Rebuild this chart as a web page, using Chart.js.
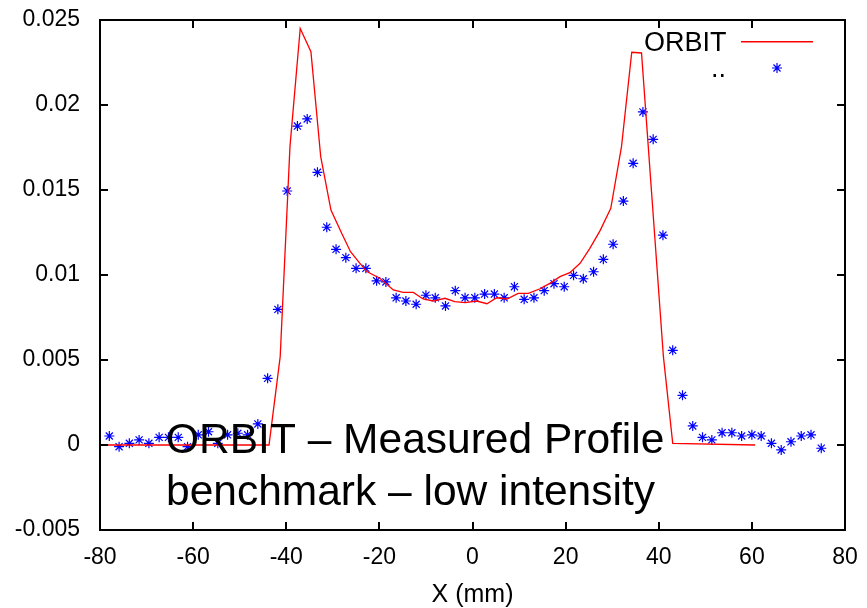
<!DOCTYPE html>
<html>
<head>
<meta charset="utf-8">
<script src="https://cdn.jsdelivr.net/npm/chart.js@4/dist/chart.umd.min.js"></script>
<style>
  body { margin: 0; background: #fff; }
  #wrap { width: 867px; height: 608px; }
</style>
</head>
<body>
<div id="wrap"><canvas id="profileChart" width="867" height="608"></canvas></div>
<script>
// ORBIT simulation (red line)
const orbitX = [-80, -43.7, -41.3, -39.2, -37.0, -34.7, -32.6, -30.4, -28.1, -26.2, -24.4, -22.7,
  -19.9, -17.0, -14.9, -12.7, -10.6, -8.4, -5.9, -3.8, -1.6, 0.9, 3.1, 5.2, 7.4, 9.8, 12.0,
  14.5, 16.6, 18.8, 20.9, 23.1, 25.2, 27.4, 29.7, 32.0, 34.2, 36.3, 38.5, 41.0, 43.0, 60.7];
const orbitY = [0, 0, 0.0052, 0.01755, 0.0245, 0.02314, 0.01696, 0.01382, 0.01245, 0.01137, 0.01076, 0.0102,
  0.00981, 0.00912, 0.00898, 0.00898, 0.00859, 0.00847, 0.00863, 0.00843, 0.00837, 0.00847, 0.00831, 0.00866, 0.00859, 0.00892, 0.00892,
  0.00919, 0.00951, 0.0099, 0.01014, 0.01069, 0.01157, 0.01261, 0.01392, 0.01755, 0.0231, 0.02306, 0.0147, 0.0052, 0.0001, 0];

// measured profile (blue stars)
const measX = [-78.0, -75.9, -73.7, -71.6, -69.5, -67.3, -65.3, -63.2, -61.2, -58.9, -56.7, -54.7,
  -52.6, -50.4, -48.3, -46.1, -44.0, -41.8, -39.8, -37.6, -35.5, -33.3, -31.3, -29.3,
  -27.2, -25.0, -22.9, -20.6, -18.6, -16.4, -14.3, -12.1, -10.0, -8.0, -5.8, -3.7,
  -1.6, 0.5, 2.6, 4.7, 6.8, 9.0, 11.1, 13.2, 15.4, 17.5, 19.7, 21.7,
  23.8, 26.0, 28.1, 30.2, 32.4, 34.5, 36.6, 38.8, 40.9, 43.0, 45.1, 47.3,
  49.4, 51.4, 53.6, 55.7, 57.8, 60.0, 62.0, 64.2, 66.3, 68.4, 70.6, 72.7, 74.9];
const measY = [0.00053, -0.0001, 0.0001, 0.0003, 0.0001, 0.00045, 0.00045, 0.00045, -0.0001, 0.0006, 0.00078, 0.0001,
  0.0006, 0.00069, 0.0006, 0.00124, 0.00392, 0.00798, 0.01494, 0.01876, 0.01918, 0.01604, 0.01281, 0.01151,
  0.01102, 0.01039, 0.01039, 0.00966, 0.00959, 0.00866, 0.00847, 0.00828, 0.00881, 0.00866, 0.00818, 0.00908,
  0.00866, 0.00866, 0.00888, 0.00888, 0.00866, 0.00931, 0.00857, 0.00866, 0.00908, 0.00949, 0.00931, 0.00998,
  0.00978, 0.01019, 0.01092, 0.01181, 0.01435, 0.01657, 0.01959, 0.01798, 0.01234, 0.00557, 0.00292, 0.00112,
  0.00045, 0.0003, 0.00072, 0.00072, 0.00053, 0.0006, 0.00053, 0.0001, -0.00029, 0.00019, 0.00053, 0.0006, -0.00019];

const xTicks = [-80, -60, -40, -20, 0, 20, 40, 60, 80];
const yTicks = [-0.005, 0, 0.005, 0.01, 0.015, 0.02, 0.025];
const yTickLabels = ['-0.005', '0', '0.005', '0.01', '0.015', '0.02', '0.025'];
const noteLines = ['ORBIT \u2013 Measured Profile', 'benchmark \u2013 low intensity'];

const FONT = "'Liberation Sans', Arial, Helvetica, sans-serif";
const frameBorder = { display: true, color: '#000', width: 2 };

// inward ticks on all four sides, key and note text
const framePlugin = {
    id: 'frame',
    afterDraw(chart) {
        const ctx = chart.ctx;
        const a = chart.chartArea;
        const xs = chart.scales.x, ys = chart.scales.y;
        const ds = chart.data.datasets;
        const tl = 8;
        ctx.save();
        ctx.fillStyle = '#000';
        xTicks.slice(1, -1).forEach(function(v) {
            const px = Math.round(xs.getPixelForValue(v));
            ctx.fillRect(px - 1, a.bottom - tl, 2, tl);
            ctx.fillRect(px - 1, a.top, 2, tl);
        });
        yTicks.slice(1, -1).forEach(function(v) {
            const py = Math.round(ys.getPixelForValue(v));
            ctx.fillRect(a.left, py - 1, tl, 2);
            ctx.fillRect(a.right - tl, py - 1, tl, 2);
        });

        // key, top right
        ctx.textAlign = 'left';
        ctx.textBaseline = 'alphabetic';
        ctx.font = '27px ' + FONT;
        ctx.fillText(ds[0].label, 644, 51);
        ctx.fillText(ds[1].label, 711, 77);
        ctx.fillStyle = '#ff0000';
        ctx.fillRect(741, 41, 72, 1.5);
        ctx.strokeStyle = '#0000ff';
        ctx.lineWidth = 1.2;
        Chart.helpers.drawPoint(ctx, { pointStyle: 'star', radius: 5, rotation: 0, borderWidth: 1.2 }, 777, 68);

        // note text over the plot
        ctx.fillStyle = '#000';
        ctx.font = '42.5px ' + FONT;
        ctx.fillText(noteLines[0], 166, 453);
        ctx.fillText(noteLines[1], 166, 505);
        ctx.restore();
    }
};

new Chart(document.getElementById('profileChart').getContext('2d'), {
    data: {
        datasets: [{
            type: 'line',
            label: 'ORBIT',
            xAxisID: 'x',
            yAxisID: 'y',
            data: orbitX.map(function(x, i) { return { x: x, y: orbitY[i] }; }),
            borderColor: '#ff0000',
            borderWidth: 1.3,
            pointRadius: 0
        }, {
            type: 'scatter',
            label: '..',
            xAxisID: 'x',
            yAxisID: 'y',
            data: measX.map(function(x, i) { return { x: x, y: measY[i] }; }),
            pointStyle: 'star',
            pointRadius: 5,
            borderColor: '#0000ff',
            borderWidth: 1.2
        }]
    },
    options: {
        responsive: false,
        animation: false,
        layout: { padding: { top: 20, right: 22, left: 0, bottom: 0 } },
        plugins: { legend: { display: false }, tooltip: { enabled: false } },
        scales: {
            x: {
                type: 'linear',
                position: 'bottom',
                min: -80,
                max: 80,
                afterBuildTicks: function(scale) {
                    scale.ticks = xTicks.map(function(v) { return { value: v }; });
                },
                afterFit: function(scale) { scale.height = 78; },
                // transparent grid keeps tickLength as label spacing; marks come from the plugin
                grid: { display: true, drawOnChartArea: false, drawTicks: true, tickLength: 14, color: 'rgba(0,0,0,0)' },
                border: frameBorder,
                ticks: {
                    padding: 0,
                    color: '#000',
                    font: { family: FONT, size: 23 },
                    maxRotation: 0
                },
                title: {
                    display: true,
                    text: 'X (mm)',
                    color: '#000',
                    font: { family: FONT, size: 25, lineHeight: 1 },
                    padding: 0
                }
            },
            y: {
                type: 'linear',
                position: 'left',
                min: -0.005,
                max: 0.025,
                afterBuildTicks: function(scale) {
                    scale.ticks = yTicks.map(function(v) { return { value: v }; });
                },
                afterFit: function(scale) { scale.width = 100; },
                grid: { display: true, drawOnChartArea: false, drawTicks: true, tickLength: 18, color: 'rgba(0,0,0,0)' },
                border: frameBorder,
                ticks: {
                    padding: 2,
                    color: '#000',
                    font: { family: FONT, size: 23 },
                    callback: function(v, i) { return yTickLabels[i]; }
                }
            },
            // mirror axes: only their border lines are shown, closing the box
            x2: {
                type: 'linear',
                position: 'top',
                min: -80,
                max: 80,
                afterFit: function(scale) { scale.height = 0; },
                grid: { display: false },
                border: frameBorder,
                ticks: { display: false }
            },
            y2: {
                type: 'linear',
                position: 'right',
                min: -0.005,
                max: 0.025,
                afterFit: function(scale) { scale.width = 0; },
                grid: { display: false },
                border: frameBorder,
                ticks: { display: false }
            }
        }
    },
    plugins: [framePlugin]
});
</script>
</body>
</html>
